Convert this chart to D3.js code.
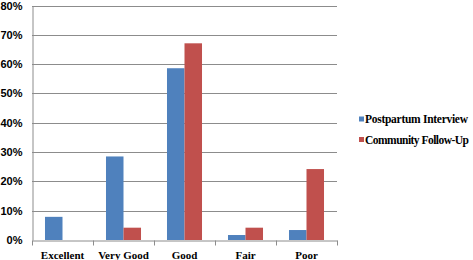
<!DOCTYPE html>
<html><head><meta charset="utf-8">
<script src="https://cdn.jsdelivr.net/npm/d3@7"></script>
<style>body{margin:0;background:#fff}svg{display:block}</style>
</head><body>
<script>
const categories = ["Excellent","Very Good","Good","Fair","Poor"];
const seriesNames = ["Postpartum Interview","Community Follow-Up"];
const postpartum = [7.9, 28.5, 58.6, 1.7, 3.4];
const community = [0, 4.2, 67.1, 4.2, 24.2];
const yTicks = [0,10,20,30,40,50,60,70,80];
const colors = ["#4f81bd","#c0504d"];

const W=473,H=260;
const m={left:32,right:136,top:5.5,bottom:20};
const svg=d3.select("body").append("svg").attr("width",W).attr("height",H);
const x=d3.scaleBand().domain(categories).range([m.left,W-m.right]).paddingInner(0.426).paddingOuter(0.213);
const xs=d3.scaleBand().domain(seriesNames).range([0,x.bandwidth()]);
const y=d3.scaleLinear().domain([0,80]).range([H-m.bottom,m.top]);

// grid
svg.append("g").selectAll("line").data(yTicks.filter(d=>d>0)).join("line")
 .attr("x1",m.left).attr("x2",W-m.right).attr("y1",d=>Math.round(y(d))+0.5).attr("y2",d=>Math.round(y(d))+0.5)
 .attr("stroke","#8c8c8c").attr("stroke-width",1);

// bars
const data=[postpartum,community];
data.forEach((vals,si)=>{
  svg.append("g").selectAll("rect").data(categories).join("rect")
   .attr("x",(c)=>x(c)+xs(seriesNames[si]))
   .attr("width",xs.bandwidth())
   .attr("y",(c,i)=>y(vals[i]))
   .attr("height",(c,i)=>y(0)-y(vals[i]))
   .attr("fill",colors[si]);
});

// y axis
const yAxis=d3.axisLeft(y).tickValues(yTicks).tickFormat(d=>d+"%").tickSize(0).tickPadding(10);
const gy=svg.append("g").attr("transform",`translate(${m.left+0.5},0)`).call(yAxis);
gy.select(".domain").attr("stroke","#8c8c8c");
gy.selectAll("text").attr("font-family","Liberation Sans, Arial, sans-serif").attr("font-weight","bold").attr("font-size","11px").attr("fill","#000");

// x axis
const xAxis=d3.axisBottom(x).tickSize(0).tickPadding(11);
const gx=svg.append("g").attr("transform",`translate(0,${Math.round(y(0))+0.5})`).call(xAxis);
gx.select(".domain").attr("stroke","#8c8c8c");
gx.selectAll("text").attr("font-family","Liberation Serif, Times New Roman, serif").attr("font-weight","bold").attr("font-size","11px").attr("fill","#000");
// boundary ticks
const step=x.step();
const bounds=d3.range(categories.length+1).map(i=>m.left+i*step);
gx.append("g").selectAll("line").data(bounds).join("line")
 .attr("x1",d=>Math.round(d)+0.5).attr("x2",d=>Math.round(d)+0.5).attr("y1",0).attr("y2",5).attr("stroke","#8c8c8c");

// legend
const lg=svg.append("g").attr("transform","translate(359,0)");
const legLens=[103,104];
seriesNames.forEach((n,i)=>{
  const yy=119+i*20.5;
  lg.append("rect").attr("x",0).attr("y",yy-2.5).attr("width",5).attr("height",5).attr("fill",colors[i]);
  lg.append("text").attr("x",6).attr("y",yy+4).text(n)
   .attr("textLength",legLens[i]).attr("lengthAdjust","spacing")
   .attr("font-family","Liberation Serif, Times New Roman, serif").attr("font-weight","bold").attr("font-size","11.5px").attr("fill","#000");
});
</script>
</body></html>
